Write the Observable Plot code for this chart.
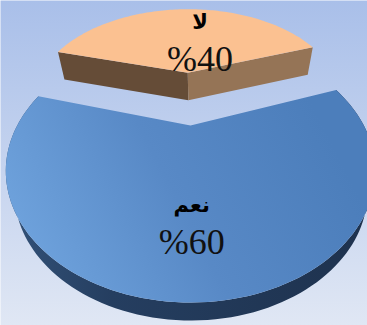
<!DOCTYPE html>
<html><head><meta charset="utf-8">
<script src="https://cdn.jsdelivr.net/npm/d3@7"></script>
<script src="https://cdn.jsdelivr.net/npm/@observablehq/plot@0.6"></script>
<style>
html,body{margin:0;padding:0;background:#fff;}
#chart{width:367px;height:325px;overflow:hidden;}
</style></head><body>
<svg width="0" height="0" style="position:absolute">
<defs>
<linearGradient id="bg" x1="0" y1="0" x2="0" y2="1">
 <stop offset="0" stop-color="#a9bfe9"/><stop offset="1" stop-color="#e0e7f4"/>
</linearGradient>
<linearGradient id="blueTop" gradientUnits="userSpaceOnUse" x1="30" y1="270" x2="320" y2="120">
 <stop offset="0" stop-color="#6fa3dd"/><stop offset="0.5" stop-color="#5889c6"/><stop offset="1" stop-color="#4c7ebb"/>
</linearGradient>
<linearGradient id="blueSide" gradientUnits="userSpaceOnUse" x1="0" y1="0" x2="367" y2="0">
 <stop offset="0" stop-color="#33537a"/><stop offset="0.3" stop-color="#253e60"/><stop offset="1" stop-color="#1e324e"/>
</linearGradient>
</defs>
</svg>
<div id="chart"></div>
<script>
const categories = ["لا", "نعم"];
const values = [40, 60];
const valueLabels = ["%40", "%60"];

// 3D view (perspective) parameters
const L = 2.15, s = 0.668, c = 0.744, f = 372.6, cx = 190, cy = 125;
function project(X, Y, Z) {
  const w = L - Y * s - Z * c;
  return [cx + f * X / w, cy + f * (Z * s - Y * c) / w];
}
function bottomOf(p, Z) {
  const t = Z < -0.53 ? 27.5 : 27.5 - 9.5 * (Z + 0.53) / 1.53;
  return [p[0] + (200 - p[0]) * 0.045, p[1] + t];
}
const explode = [0.54, 0];
const labelRadius = [0.43, 0.66];
const labelDx = [14, -4];
const topColors = ["#fbc191", "url(#blueTop)"];

const total = d3.sum(values);
const rot = -2 * Math.PI / 180;
const start = rot - values[0] / total * Math.PI;
const arcs = d3.pie().sort(null).startAngle(start).endAngle(start + 2 * Math.PI)(values);

const slices = arcs.map((a, i) => {
  const mid = (a.startAngle + a.endAngle) / 2;
  const ox = explode[i] * Math.sin(mid), oz = -explode[i] * Math.cos(mid);
  const n = 120;
  const rim = d3.range(n + 1).map(k => {
    const ang = a.startAngle + (a.endAngle - a.startAngle) * k / n;
    const X = ox + Math.sin(ang), Z = oz - Math.cos(ang);
    const p = project(X, 0, Z);
    return {top: p, bot: bottomOf(p, Z)};
  });
  const ctop = project(ox, 0, oz);
  const center = {top: ctop, bot: bottomOf(ctop, oz)};
  const lr = labelRadius[i];
  const lp = project(ox + lr * Math.sin(mid), 0, oz - lr * Math.cos(mid));
  return {i, rim, center, label: [lp[0] + labelDx[i], lp[1]]};
});

const pts = arr => arr.map(p => ({x: p[0], y: p[1]}));
const marks = [Plot.frame({fill: "url(#bg)", stroke: "none"})];

// blue slice: outer wall then top
const b = slices[1];
marks.push(Plot.line(pts([...b.rim.map(r => r.top), ...b.rim.slice().reverse().map(r => r.bot)]),
  {x: "x", y: "y", fill: "url(#blueSide)", stroke: "none"}));
marks.push(Plot.line(pts([b.center.top, ...b.rim.map(r => r.top)]),
  {x: "x", y: "y", fill: topColors[1], stroke: "none"}));

// orange (exploded) slice: radial faces then top
const o = slices[0];
const l0 = o.rim[0], r0 = o.rim[o.rim.length - 1];
marks.push(Plot.line(pts([o.center.top, l0.top, l0.bot, o.center.bot]),
  {x: "x", y: "y", fill: "#654c37", stroke: "none"}));
marks.push(Plot.line(pts([o.center.top, r0.top, r0.bot, o.center.bot]),
  {x: "x", y: "y", fill: "#957456", stroke: "none"}));
marks.push(Plot.line(pts([o.center.top, ...o.rim.map(r => r.top)]),
  {x: "x", y: "y", fill: topColors[0], stroke: "none"}));

const labelData = slices.map(sl => ({x: sl.label[0], y: sl.label[1], name: categories[sl.i], val: valueLabels[sl.i]}));
marks.push(Plot.text(labelData, {x: "x", y: "y", text: "name", dy: -19, fontSize: 21, fontWeight: "bold", fontFamily: "DejaVu Sans", fill: "#000"}));
marks.push(Plot.text(labelData, {x: "x", y: "y", text: "val", dy: 18, fontSize: 36, fontFamily: "Liberation Serif", fill: "#111"}));

const chart = Plot.plot({
  width: 367, height: 325, margin: 0,
  x: {domain: [0, 367], axis: null},
  y: {domain: [0, 325], reverse: true, axis: null},
  style: {background: "transparent", overflow: "hidden"},
  marks
});
document.getElementById("chart").appendChild(chart);
</script>
</body></html>
